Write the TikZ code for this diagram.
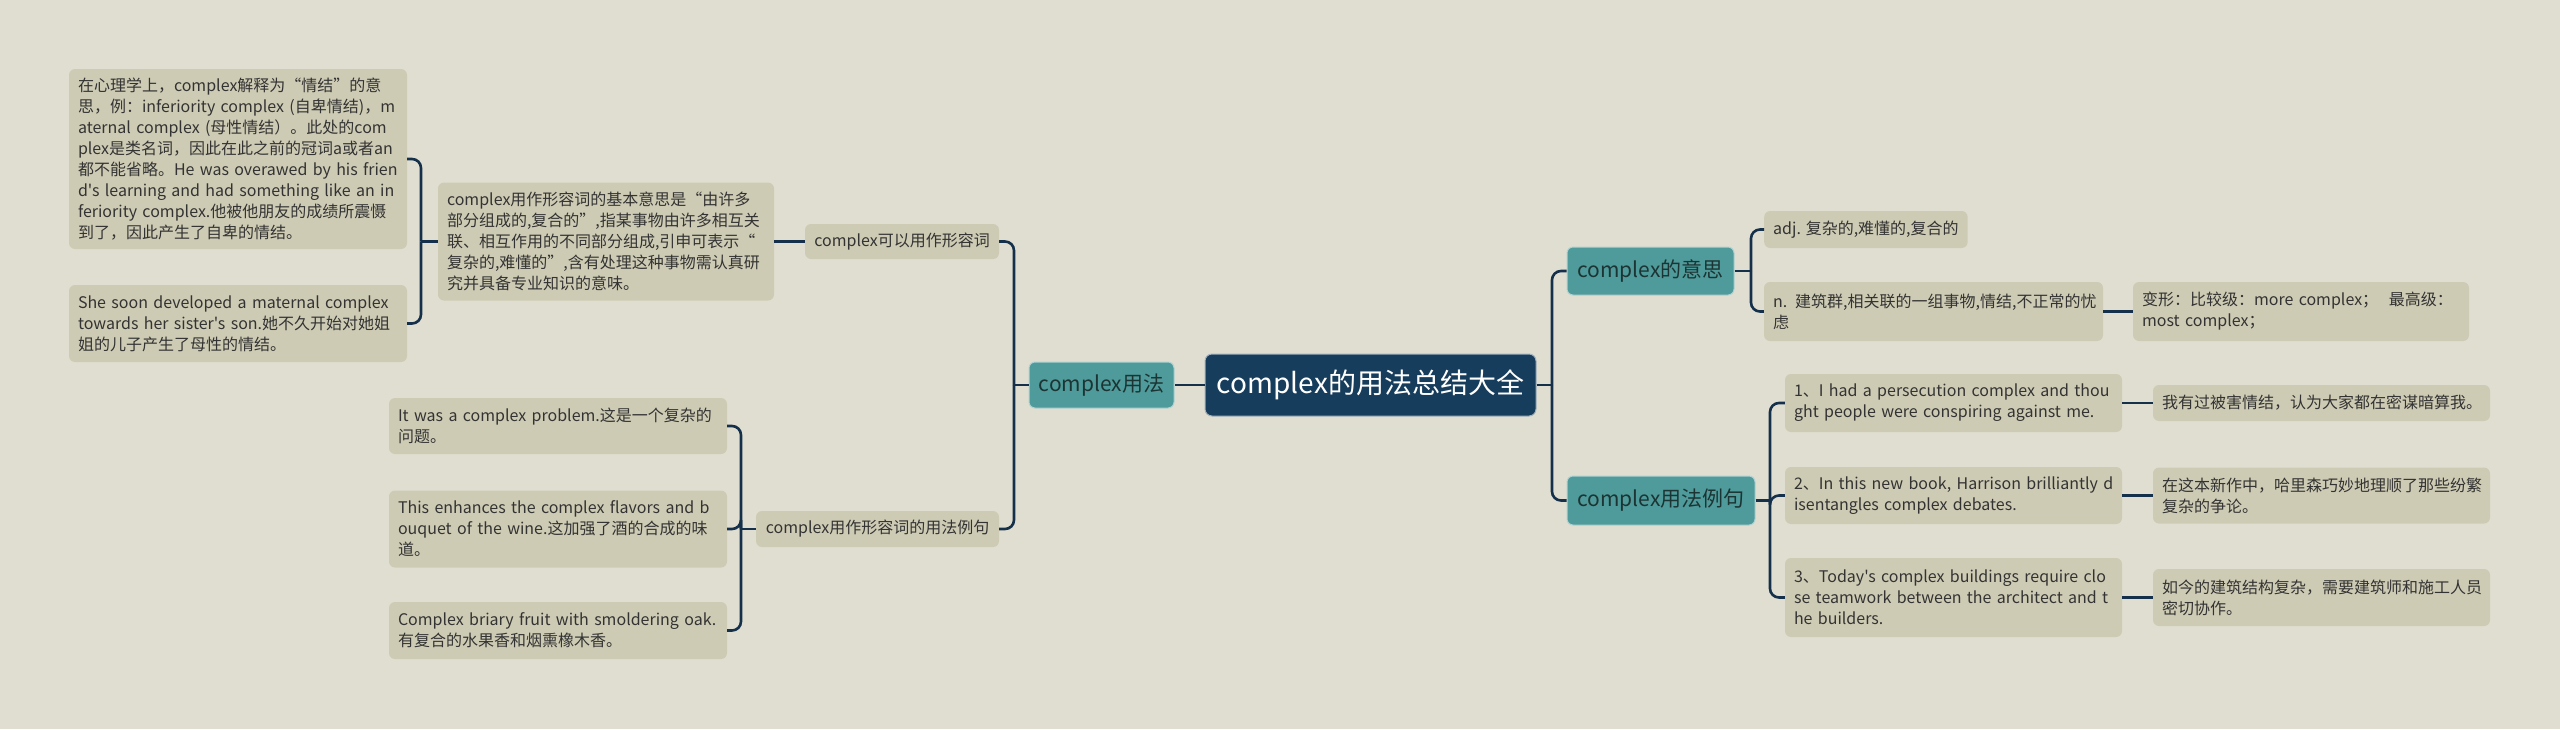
\documentclass[tikz,border=0pt]{standalone}
\usepackage{fontspec}
\setmainfont{Noto Sans CJK SC}[Ligatures=TeXOff]
\definecolor{bg}{HTML}{E0DED0}
\definecolor{leaffill}{HTML}{CECBB4}
\definecolor{tealc}{HTML}{4F9A9A}
\definecolor{tealtxt}{HTML}{1C3434}
\definecolor{rootc}{HTML}{173D5C}
\definecolor{linec}{HTML}{15304A}
\definecolor{txt}{HTML}{333333}
\newcommand\nb[1]{\mbox{#1}}
\tikzset{
  leaf/.style={fill=leaffill, rounded corners=6pt, inner xsep=9pt, inner ysep=0pt,
    align=left, text=txt, font=\fontsize{16pt}{21pt}\selectfont},
  sub/.style={fill=leaffill, rounded corners=6pt, inner sep=0pt, align=center,
    text=txt, font=\fontsize{16pt}{21pt}\selectfont},
  mid/.style={fill=tealc, draw=white!55!tealc, line width=1pt, rounded corners=6pt,
    inner sep=0pt, text=tealtxt, font=\fontsize{21pt}{26pt}\selectfont},
  rootbox/.style={fill=rootc, draw=white!60!rootc, line width=1pt, rounded corners=7pt,
    inner sep=0pt, text=white, font=\fontsize{28pt}{34pt}\selectfont},
  conn/.style={draw=linec, line width=2.6pt},
  brk/.style={conn, rounded corners=9pt}
}
\begin{document}
\begin{tikzpicture}[x=1pt,y=-1pt]
\fill[bg] (0,0) rectangle (2560,729);
\useasboundingbox (0,0) rectangle (2560,729);

% root and first level
\node[rootbox, minimum width=331pt, minimum height=62pt] (root) at (1370.5,385) {complex的用法总结大全};
\node[mid, minimum width=145pt, minimum height=46pt] (yongfa) at (1101.5,385) {complex用法};
\node[mid, minimum width=167pt, minimum height=48pt] (yisi) at (1650.5,271) {complex的意思};
\node[mid, minimum width=188pt, minimum height=49pt] (liju2) at (1661,500.5) {complex用法例句};

% left branch
\node[sub, minimum width=194pt, minimum height=35pt] (kexi) at (902,241.5) {complex可以用作形容词};
\node[sub, minimum width=243pt, minimum height=36pt] (liju) at (877.5,529) {complex用作形容词的用法例句};

\node[leaf, text width=318pt, minimum height=118pt] (big) at (606,241.5) {\nb{complex用作形容词的基本意思是“由许多}\\\nb{部分组成的,复合的”,指某事物由许多相互关}\\\nb{联、相互作用的不同部分组成,引申可表示“}\\\nb{复杂的,难懂的”,含有处理这种事物需认真研}\\究并具备专业知识的意味。};

\node[leaf, text width=320pt, minimum height=180pt] (b1) at (238,159) {\nb{在心理学上，complex解释为“情结”的意}\\\nb{思，例：inferiority complex (自卑情结)，m}\\\nb{aternal complex (母性情结）。此处的com}\\\nb{plex是类名词，因此在此之前的冠词a或者an}\\\nb{都不能省略。He was overawed by his frien}\\\nb{d's learning and had something like an in}\\\nb{feriority complex.他被他朋友的成绩所震慑}\\到了，因此产生了自卑的情结。};
\node[leaf, text width=320pt, minimum height=77pt] (b2) at (238,323.5) {\nb{She soon developed a maternal complex}\\\nb{towards her sister's son.她不久开始对她姐}\\姐的儿子产生了母性的情结。};

\node[leaf, text width=320pt, minimum height=56pt] (ex1) at (558,426) {\nb{It was a complex problem.这是一个复杂的}\\问题。};
\node[leaf, text width=320pt, minimum height=77pt] (ex2) at (558,529) {\nb{This enhances the complex flavors and b}\\\nb{ouquet of the wine.这加强了酒的合成的味}\\道。};
\node[leaf, text width=320pt, minimum height=57pt] (ex3) at (558,630.5) {\nb{Complex briary fruit with smoldering oak.}\\有复合的水果香和烟熏橡木香。};

% right branch
\node[leaf, minimum width=201pt, minimum height=37pt, anchor=west] (adj) at (1764,229.5) {adj. 复杂的,难懂的,复合的};
\node[leaf, text width=321pt, minimum height=59pt] (nn) at (1933.5,311.5) {\nb{n. 建筑群,相关联的一组事物,情结,不正常的忧}\\虑};
\node[leaf, text width=318pt, minimum height=59pt] (bx) at (2301,311.5) {\nb{变形：比较级：more complex；\ \ 最高级：}\\most complex；};

\node[leaf, text width=319pt, minimum height=58pt] (e1) at (1953.5,403) {\nb{1、I had a persecution complex and thou}\\\nb{ght people were conspiring against me.}};
\node[leaf, text width=319pt, minimum height=57pt] (e2) at (1953.5,495.5) {\nb{2、In this new book, Harrison brilliantly d}\\\nb{isentangles complex debates.}};
\node[leaf, text width=319pt, minimum height=79pt] (e3) at (1953.5,597.5) {\nb{3、Today's complex buildings require clo}\\\nb{se teamwork between the architect and t}\\he builders.};

\node[leaf, text width=319pt, minimum height=36pt] (t1) at (2321.5,403) {\nb{我有过被害情结，认为大家都在密谋暗算我。}};
\node[leaf, text width=319pt, minimum height=56pt] (t2) at (2321.5,495.5) {\nb{在这本新作中，哈里森巧妙地理顺了那些纷繁}\\复杂的争论。};
\node[leaf, text width=319pt, minimum height=57pt] (t3) at (2321.5,597.5) {\nb{如今的建筑结构复杂，需要建筑师和施工人员}\\密切协作。};

% bracket points
\coordinate (L1) at (1014,385);
\coordinate (L2) at (421,241.5);
\coordinate (L3) at (741,529);
\coordinate (R1) at (1552,385);
\coordinate (R2) at (1751,271);
\coordinate (R3) at (1770,500.5);

% connectors left
\draw[conn] (root.west) -- (yongfa.east);
\draw[conn] (yongfa.west) -- (L1);
\draw[brk] (L1) |- (kexi.east);
\draw[brk] (L1) |- (liju.east);
\draw[conn] (kexi.west) -- (big.east);
\draw[conn] (big.west) -- (L2);
\draw[brk] (L2) |- (b1.east);
\draw[brk] (L2) |- (b2.east);
\draw[conn] (liju.west) -- (L3);
\draw[brk] (L3) |- (ex1.east);
\draw[brk] (L3) |- (ex2.east);
\draw[brk] (L3) |- (ex3.east);

% connectors right
\draw[conn] (root.east) -- (R1);
\draw[brk] (R1) |- (yisi.west);
\draw[brk] (R1) |- (liju2.west);
\draw[conn] (yisi.east) -- (R2);
\draw[brk] (R2) |- (adj.west);
\draw[brk] (R2) |- (nn.west);
\draw[conn] (nn.east) -- (bx.west);
\draw[conn] (liju2.east) -- (R3);
\draw[brk] (R3) |- (e1.west);
\draw[brk] (R3) |- (e2.west);
\draw[brk] (R3) |- (e3.west);
\draw[conn] (e1.east) -- (t1.west);
\draw[conn] (e2.east) -- (t2.west);
\draw[conn] (e3.east) -- (t3.west);
\end{tikzpicture}
\end{document}
